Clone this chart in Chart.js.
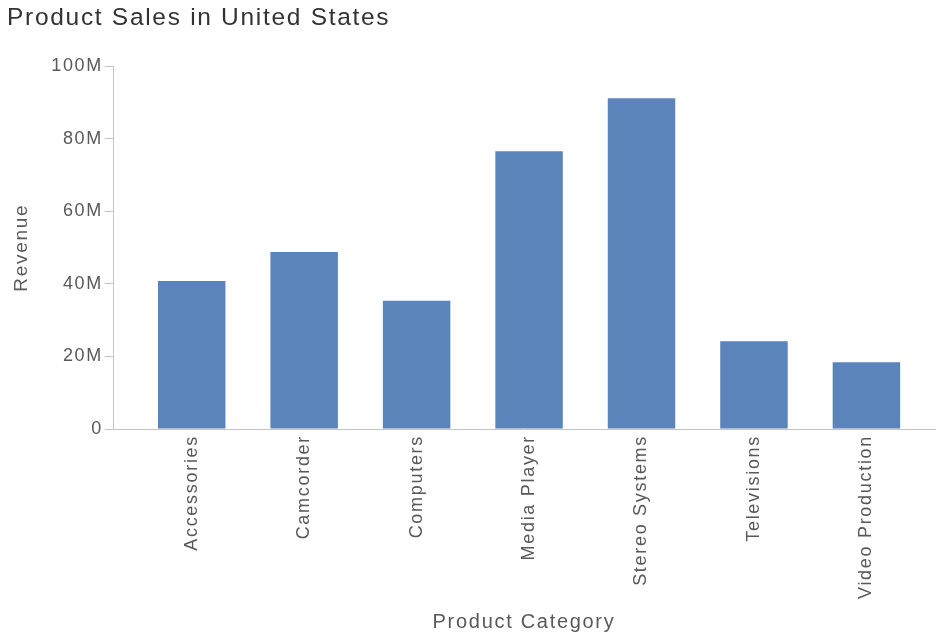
<!DOCTYPE html>
<html>
<head>
<meta charset="utf-8">
<script src="https://cdn.jsdelivr.net/npm/chart.js@4/dist/chart.umd.min.js"></script>
<style>
  html, body { margin: 0; padding: 0; background: #fff; }
  #wrap { width: 938px; height: 636px; position: relative; }
</style>
</head>
<body>
<div id="wrap"><canvas id="c" width="938" height="636"></canvas></div>
<script>
const titleText = "Product Sales in United States";
const categories = ["Accessories", "Camcorder", "Computers", "Media Player", "Stereo Systems", "Televisions", "Video Production"];
const revenue = [40.8e6, 48.8e6, 35.4e6, 76.6e6, 91.2e6, 24.2e6, 18.4e6];
const yTicks = [0, 20e6, 40e6, 60e6, 80e6, 100e6];
const yTickLabels = ["0", "20M", "40M", "60M", "80M", "100M"];
const xTitle = "Product Category";
const yTitle = "Revenue";

const FONT = "'Liberation Sans', Arial, sans-serif";
const TEXT = "#595959";
const AXIS = "#c4c4c4";
const SPACING = '1.7px';

const points = revenue.map((v, i) => ({ x: i, y: v }));

const spacingPlugin = {
  id: 'spacing',
  beforeUpdate: (c) => { c.ctx.letterSpacing = SPACING; },
  beforeLayout: (c) => { c.ctx.letterSpacing = SPACING; },
  beforeDraw: (c) => { c.ctx.letterSpacing = SPACING; }
};

new Chart(document.getElementById('c'), {
  type: 'bar',
  plugins: [spacingPlugin],
  data: {
    datasets: [{
      label: 'Revenue',
      data: points,
      backgroundColor: '#5b84bb',
      borderWidth: 0,
      barPercentage: 0.6,
      categoryPercentage: 1.0
    }]
  },
  options: {
    responsive: false,
    animation: false,
    devicePixelRatio: 1,
    layout: { padding: { left: 7, right: 3, top: 0, bottom: 2 } },
    plugins: {
      legend: { display: false },
      tooltip: { enabled: false },
      title: {
        display: true,
        text: titleText,
        align: 'start',
        color: '#333333',
        font: { family: FONT, size: 24.5, weight: 'normal' },
        padding: { top: 4, bottom: 33 }
      }
    },
    scales: {
      x: {
        type: 'linear',
        min: -0.7,
        max: 6.61,
        offset: false,
        grid: { display: false, drawTicks: false },
        border: { display: true, color: AXIS, width: 1 },
        afterBuildTicks: (s) => { s.ticks = categories.map((c, i) => ({ value: i })); },
        ticks: {
          autoSkip: false,
          minRotation: 90,
          maxRotation: 90,
          padding: 6,
          color: TEXT,
          font: { family: FONT, size: 18 },
          callback: (v) => categories[v] ?? ''
        },
        title: {
          display: true,
          text: xTitle,
          color: TEXT,
          font: { family: FONT, size: 20 },
          padding: { top: 14, bottom: 0 }
        },
        afterFit: (s) => { s.height = 205; }
      },
      y: {
        min: 0,
        max: 100e6,
        afterBuildTicks: (s) => { s.ticks = yTicks.map(v => ({ value: v })); },
        grid: { display: true, drawOnChartArea: false, drawTicks: true, tickLength: 8, color: AXIS },
        border: { display: true, color: AXIS, width: 1 },
        ticks: {
          padding: 2,
          color: TEXT,
          font: { family: FONT, size: 18 },
          callback: (v) => yTickLabels[yTicks.indexOf(v)] ?? ''
        },
        title: {
          display: true,
          text: yTitle,
          color: TEXT,
          font: { family: FONT, size: 19 },
          padding: { top: 3, bottom: 6 }
        },
        afterFit: (s) => { s.width = 106; }
      }
    }
  }
});
</script>
</body>
</html>
